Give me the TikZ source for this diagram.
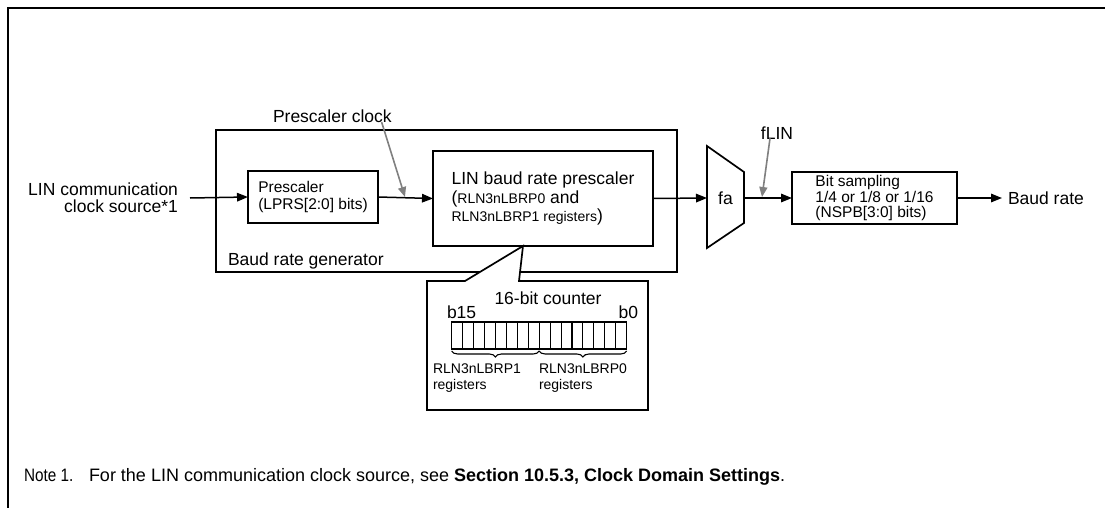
\documentclass[tikz,border=0pt]{standalone}
\usepackage{fontspec}
\setmainfont{Liberation Sans}
\usetikzlibrary{arrows.meta, positioning, decorations.pathreplacing}
\newcommand{\regfont}{\fontsize{14}{15.3}\selectfont}

\begin{document}
\begin{tikzpicture}[
  x=1pt, y=-1pt,
  every node/.style={inner sep=0pt, outer sep=0pt},
  big/.style={font=\fontsize{17.5}{17}\selectfont},
  mid/.style={font=\fontsize{15.5}{17.3}\selectfont},
  small/.style={font=\regfont, align=left},
  blk/.style={draw, line width=1.7pt},
  cell/.style={draw, line width=1.1pt, minimum width=10.94, minimum height=27},
  arr/.style={-{Triangle[length=11pt, width=8.5pt]}, line width=1.5pt},
  garr/.style={-{Triangle[length=10pt, width=8pt]}, line width=1.6pt, gray},
  brc/.style={decorate, decoration={brace, mirror, amplitude=6pt, raise=2pt}, line width=1.1pt}
]
  \useasboundingbox (0,0) rectangle (1105,508);

  % Outer frame (open to the right and below)
  \draw[line width=2.6pt] (8,508) -- (8,8) -- (1105,8);

  % Baud rate generator
  \node[blk, minimum width=461, minimum height=142] (gen) at (446.5,201) {};
  \node[big, anchor=base west] (genlbl) at (228,265) {Baud rate generator};
  \node[big, anchor=base west] (pclk) at (273,123) {Prescaler clock};

  \node[big, align=right, anchor=east] (src) at (178,198) {LIN communication\\clock source*1};
  \node[blk, mid, align=left, minimum width=130, minimum height=52] (pre) at (313,197)
    {Prescaler\\(LPRS[2:0] bits)};
  \node[blk, align=left, font=\fontsize{17.5}{18.7}\selectfont, minimum width=220, minimum height=95] (lbrp) at (543,198.5)
    {LIN baud rate prescaler\\({\regfont RLN3nLBRP0} and\\ {\regfont RLN3nLBRP1 registers})};

  % Selector
  \coordinate (muxin) at (707,198);
  \coordinate (muxout) at (744,198);
  \draw[line width=1.7pt] (707,146) -- (744,172) -- (744,223) -- (707,248) -- cycle;
  \node[big] (fa) at (725.5,198) {fa};
  \node[big] (flin) at (777,133) {fLIN};

  \node[blk, align=left, font=\fontsize{15.5}{15.7}\selectfont, minimum width=165, minimum height=52] (bits) at (874.5,198)
    {Bit sampling\\1/4 or 1/8 or 1/16\\(NSPB[3:0] bits)};
  \node[big, anchor=west] (baud) at (1008,198) {Baud rate};

  \draw[arr] ([xshift=12pt]src.east) -- (pre.west);
  \draw[arr] (pre.east) -- (lbrp.west);
  \draw[arr] (lbrp.east) -- (muxin);
  \draw[arr] (muxout) -- (bits.west);
  \draw[arr] (bits.east) -- ([xshift=-6pt]baud.west);

  \coordinate (pclktap) at (405,197);
  \coordinate (flintap) at (762,197);
  \draw[garr] ([xshift=-10pt, yshift=1pt]pclk.south east) -- (pclktap);
  \draw[garr] ([xshift=-7pt, yshift=1pt]flin.south) -- (flintap);

  % 16-bit counter callout
  \node[minimum width=221, minimum height=129] (cnt) at (537.5,345.5) {};
  \draw[line width=1.7pt, fill=white] (cnt.north west) -- (465,281) -- ([xshift=-20pt]lbrp.south)
    -- (519,281) -- (cnt.north east) -- (cnt.south east) -- (cnt.south west) -- cycle;
  \node[big] (cntlbl) at (548,298) {16-bit counter};
  \node[big, anchor=base west] (msb) at (447,318) {b15};
  \node[big, anchor=base east] (lsb) at (638,318) {b0};
  \foreach \i in {0,...,15}
    \node[cell] (bit\i) at ({621.23-\i*10.94},335.5) {};
  \draw[brc] (bit15.south west) -- (bit8.south east);
  \draw[brc] (bit7.south west) -- (bit0.south east);
  \node[small, anchor=west] (reg1) at (433,378) {RLN3nLBRP1\\registers};
  \node[small, anchor=west] (reg0) at (539,378) {RLN3nLBRP0\\registers};

  % Note
  \node[font=\fontsize{18}{20}\selectfont, anchor=base west] (notenum) at (24,481) {\scalebox{0.85}[1]{Note 1.}};
  \node[font=\fontsize{18}{20}\selectfont, anchor=base west] (note) at (89,481)
    {For the LIN communication clock source, see \textbf{Section 10.5.3, Clock Domain Settings}.};
\end{tikzpicture}
\end{document}
